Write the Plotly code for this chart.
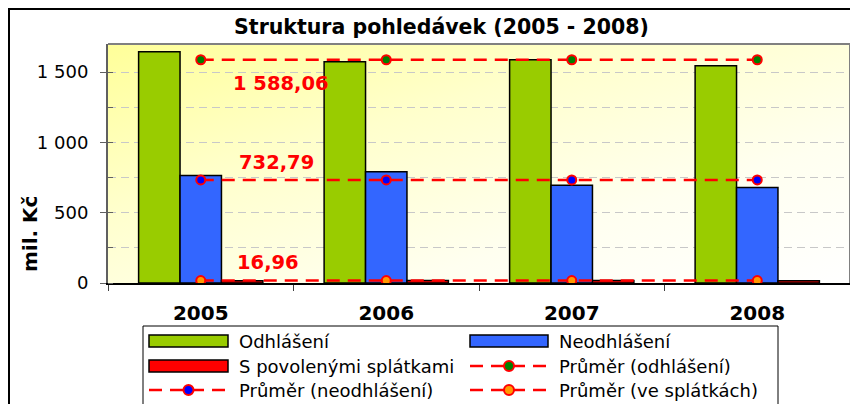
import base64
import plotly.graph_objects as go

# ---- data ----
years = ["2005", "2006", "2007", "2008"]
odhlaseni = [1645, 1573, 1588, 1546]
neodhlaseni = [764, 792, 695, 680]
splatky = [16, 18, 17, 16.84]
prumer_odhlaseni = [1588.06, 1588.06, 1588.06, 1588.06]
prumer_neodhlaseni = [732.79, 732.79, 732.79, 732.79]
prumer_splatky = [16.96, 16.96, 16.96, 16.96]
avg_labels = ["1 588,06", "732,79", "16,96"]

# ---- geometry (page pixels; the page body adds an 8px offset) ----
OFF = 8
W, H = 850, 396
L, R, T, B = 108, 850, 44, 283   # plot area in page pixels


def px_x(px):
    return (px - L) / (R - L)


def px_y(py):
    return (B - py) / (B - T)


FONT = "DejaVu Sans"
RED = "#FF0000"
BAR_STYLES = [("Odhlášení", "#99CC00"), ("Neodhlášení", "#3366FF"),
              ("S povolenými splátkami", "#FF0000")]
AVG_STYLES = [("Průměr (odhlášení)", "#008000"),
              ("Průměr (neodhlášení)", "#0000FF"),
              ("Průměr (ve splátkách)", "#FF9900")]
DASH = "13px,8px"

fig = go.Figure()

bar_line = dict(color="black", width=1.5)
for (name, col), vals in zip(BAR_STYLES, [odhlaseni, neodhlaseni, splatky]):
    fig.add_trace(go.Bar(name=name, x=years, y=vals, showlegend=False,
                         marker=dict(color=col, line=bar_line)))

for (name, fill), vals in zip(AVG_STYLES, [prumer_odhlaseni, prumer_neodhlaseni,
                                           prumer_splatky]):
    fig.add_trace(go.Scatter(name=name, x=years, y=vals, mode="lines+markers",
                             showlegend=False,
                             line=dict(color=RED, width=2.5, dash=DASH),
                             marker=dict(size=9, color=fill,
                                         line=dict(color=RED, width=2))))

annotations = []
# average value labels
label_specs = [(prumer_odhlaseni[0], avg_labels[0], 0.43, -24),
               (prumer_neodhlaseni[0], avg_labels[1], 0.41, 17),
               (prumer_splatky[0], avg_labels[2], 0.36, 18)]
for yv, txt, xv, ys in label_specs:
    annotations.append(dict(x=xv, y=yv, xref="x", yref="y", text=txt,
                            showarrow=False, yshift=ys,
                            xanchor="center", yanchor="middle",
                            font=dict(family=FONT, size=19.5, color=RED,
                                      weight="bold")))
annotations.append(dict(x=px_x(30), y=px_y(234), xref="paper", yref="paper",
                        text="mil. Kč", textangle=-90, showarrow=False,
                        xanchor="center", yanchor="middle",
                        font=dict(family=FONT, size=20, color="black",
                                  weight="bold")))

# background gradient
svg = ('<svg xmlns="http://www.w3.org/2000/svg" width="742" height="239" '
       'preserveAspectRatio="none"><defs><linearGradient id="g" x1="0" y1="0" '
       'x2="1" y2="1"><stop offset="0" stop-color="#FFFF99"/>'
       '<stop offset="0.35" stop-color="#FFFFCC"/>'
       '<stop offset="0.7" stop-color="#FFFFF0"/>'
       '<stop offset="1" stop-color="#FFFFFF"/></linearGradient></defs>'
       '<rect width="742" height="239" fill="url(#g)"/></svg>')
src = "data:image/svg+xml;base64," + base64.b64encode(svg.encode()).decode()

shapes = [
    dict(type="line", xref="paper", yref="paper", x0=0, x1=1, y0=1, y1=1,
         line=dict(color="#808080", width=2)),
    dict(type="line", xref="paper", yref="paper", x0=1, x1=1, y0=0, y1=1,
         line=dict(color="#808080", width=2)),
    # outer chart border
    dict(type="rect", xref="paper", yref="paper", x0=px_x(9), x1=px_x(880),
         y0=px_y(440), y1=px_y(9), line=dict(color="black", width=2)),
    # legend box
    dict(type="rect", xref="paper", yref="paper", x0=px_x(143), x1=px_x(778),
         y0=px_y(440), y1=px_y(326), line=dict(color="black", width=1),
         fillcolor="white"),
]

# legend entries (row-major, two columns)
legend_items = [("bar", BAR_STYLES[0]), ("bar", BAR_STYLES[1]),
                ("bar", BAR_STYLES[2]), ("line", AVG_STYLES[0]),
                ("line", AVG_STYLES[1]), ("line", AVG_STYLES[2])]
col_sym = [(149, 228), (470, 548)]
col_txt = [237, 557]
row_y = [341, 366, 390]
for i, (kind, (name, col)) in enumerate(legend_items):
    r, c = divmod(i, 2)
    x0, x1 = col_sym[c]
    yc = row_y[r]
    if kind == "bar":
        shapes.append(dict(type="rect", xref="paper", yref="paper",
                           x0=px_x(x0), x1=px_x(x1), y0=px_y(yc + 6),
                           y1=px_y(yc - 6), fillcolor=col,
                           line=dict(color="black", width=1.5)))
    else:
        shapes.append(dict(type="line", xref="paper", yref="paper",
                           x0=px_x(x0), x1=px_x(x1), y0=px_y(yc), y1=px_y(yc),
                           line=dict(color=RED, width=2.5, dash=DASH)))
        xm = (x0 + x1) / 2
        shapes.append(dict(type="circle", xref="paper", yref="paper",
                           x0=px_x(xm - 5), x1=px_x(xm + 5),
                           y0=px_y(yc + 5), y1=px_y(yc - 5), fillcolor=col,
                           line=dict(color=RED, width=2)))
    annotations.append(dict(x=px_x(col_txt[c]), y=px_y(yc), xref="paper",
                            yref="paper", text=name, showarrow=False,
                            xanchor="left", yanchor="middle",
                            font=dict(family=FONT, size=18, color="black")))

fig.update_layout(
    width=W, height=H,
    margin=dict(l=L - OFF, r=OFF + W - R, t=T - OFF, b=OFF + H - B,
                autoexpand=False),
    paper_bgcolor="white",
    plot_bgcolor="rgba(0,0,0,0)",
    separators=", ",
    barmode="group", bargap=0.33, bargroupgap=0,
    showlegend=False,
    font=dict(family=FONT, size=18, color="black"),
    title=dict(text="Struktura pohledávek (2005 - 2008)", xref="container",
               yref="container", x=(441.5 - OFF) / W, y=1 - (27 - OFF) / H,
               xanchor="center", yanchor="middle",
               font=dict(family=FONT, size=20.5, color="black",
                         weight="bold")),
    xaxis=dict(type="category", tickson="boundaries", ticks="outside",
               ticklen=6, tickcolor="#404040", showline=True,
               linecolor="black", linewidth=2, showgrid=False,
               tickfont=dict(family=FONT, size=20, weight="bold"),
               ticklabelstandoff=11),
    yaxis=dict(range=[0, 1700], tick0=0, dtick=500, ticks="outside",
               ticklen=6, tickcolor="#606060", showline=True,
               linecolor="#606060", linewidth=2, showgrid=True,
               gridcolor="#C8C8C8", griddash="8px,5px", gridwidth=1,
               zeroline=False, separatethousands=True,
               tickfont=dict(family=FONT, size=18), ticklabelstandoff=8,
               minor=dict(dtick=250, tick0=0, showgrid=True,
                          gridcolor="#C8C8C8", griddash="8px,5px",
                          ticks="inside", ticklen=5, tickcolor="#606060")),
    images=[dict(source=src, xref="paper", yref="paper", x=0, y=1,
                 sizex=1, sizey=1, xanchor="left", yanchor="top",
                 sizing="stretch", layer="below")],
    shapes=shapes,
    annotations=annotations,
)

fig.write_html("out.html")
